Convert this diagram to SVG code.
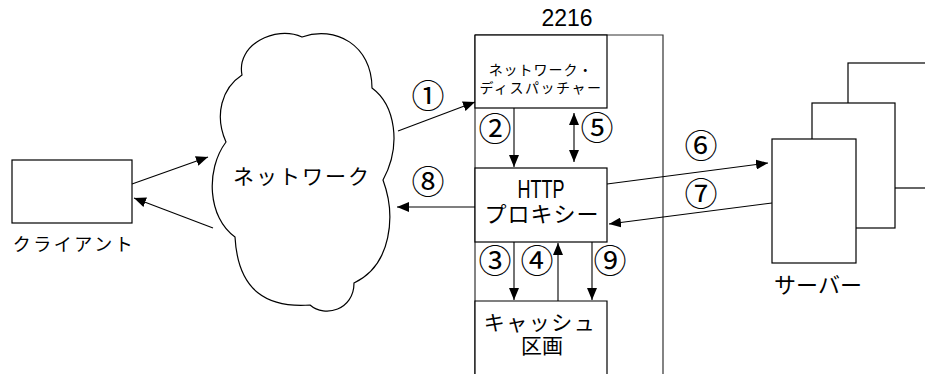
<svg xmlns="http://www.w3.org/2000/svg" width="925" height="374" viewBox="0 0 925 374">
<defs>
<style>
.box{fill:#fff;stroke:#000;stroke-width:1.2}
.frame{fill:none;stroke:#333;stroke-width:1.2}
.ln{fill:none;stroke:#000;stroke-width:1.1}
.t{font-family:"Liberation Sans","Noto Sans CJK JP",sans-serif;fill:#000}
.c{font-family:"Noto Sans CJK JP","DejaVu Sans",sans-serif;fill:#000;font-size:33px;text-anchor:middle}
</style>
<marker id="ah" viewBox="0 0 12 10" refX="12" refY="5" markerWidth="12" markerHeight="10" markerUnits="userSpaceOnUse" orient="auto-start-reverse">
<path d="M0,0 L12,5 L0,10 Z" fill="#000"/>
</marker>
</defs>
<rect width="925" height="374" fill="#fff"/>

<g id="system2216">
<path class="frame" d="M475,35 H663 V374 M475,35 V374"/>
<text class="t" x="567" y="26" font-size="23" text-anchor="middle">2216</text>
</g>

<g id="client">
<rect class="box" x="12" y="160" width="120" height="63"/>
<text class="t" x="74" y="251" font-size="18" letter-spacing="2.5" text-anchor="middle">クライアント</text>
</g>

<g id="network">
<path class="box" d="M242,75 C236,45 275,25 302,37 C335,25 372,45 372,88 C395,105 402,145 383,180 C396,215 392,265 354,283 C354,310 325,318 310,305 C268,308 238,292 235,237 C208,218 205,170 226,142 C214,115 222,88 242,75 Z"/>
<text class="t" x="302" y="184" font-size="21" letter-spacing="2" text-anchor="middle">ネットワーク</text>
</g>

<g id="dispatcher">
<rect class="box" x="475" y="35" width="132" height="73"/>
<text class="t" x="541" y="75" font-size="14" letter-spacing="1" text-anchor="middle">ネットワーク・</text>
<text class="t" x="541" y="93" font-size="14" letter-spacing="1.5" text-anchor="middle">ディスパッチャー</text>
</g>

<g id="proxy">
<rect class="box" x="475" y="168" width="132" height="74"/>
<text class="t" x="541" y="198" font-size="25" text-anchor="middle" textLength="47" lengthAdjust="spacingAndGlyphs">HTTP</text>
<text class="t" x="542" y="222" font-size="22" letter-spacing="1" text-anchor="middle">プロキシー</text>
</g>

<g id="cache">
<path class="box" d="M475,374 V301 H607 V374"/>
<text class="t" x="540" y="330" font-size="21" letter-spacing="1.5" text-anchor="middle">キャッシュ</text>
<text class="t" x="542" y="353" font-size="21" text-anchor="middle">区画</text>
</g>

<g id="servers">
<rect class="box" x="848" y="63" width="90" height="125"/>
<rect class="box" x="812" y="103" width="83" height="125"/>
<rect class="box" x="772" y="139" width="84" height="124"/>
<text class="t" x="818" y="293" font-size="22" text-anchor="middle">サーバー</text>
</g>

<g id="connectors">
<line class="ln" x1="132" y1="184" x2="208" y2="157" marker-end="url(#ah)"/>
<line class="ln" x1="213" y1="228" x2="134" y2="198" marker-end="url(#ah)"/>
<line class="ln" x1="398" y1="131" x2="475" y2="102" marker-end="url(#ah)"/>
<line class="ln" x1="475" y1="207" x2="397" y2="207" marker-end="url(#ah)"/>
<line class="ln" x1="514" y1="108" x2="514" y2="167" marker-end="url(#ah)"/>
<line class="ln" x1="574" y1="113" x2="574" y2="162" marker-start="url(#ah)" marker-end="url(#ah)"/>
<line class="ln" x1="607" y1="184" x2="768" y2="163" marker-end="url(#ah)"/>
<line class="ln" x1="772" y1="203" x2="609" y2="224" marker-end="url(#ah)"/>
<line class="ln" x1="514" y1="242" x2="514" y2="300" marker-end="url(#ah)"/>
<line class="ln" x1="558" y1="301" x2="558" y2="243" marker-end="url(#ah)"/>
<line class="ln" x1="592" y1="242" x2="592" y2="300" marker-end="url(#ah)"/>
</g>

<g id="labels">
<text class="c" x="428" y="108">①</text>
<text class="c" x="428" y="194">⑧</text>
<text class="c" x="495" y="141">②</text>
<text class="c" x="597" y="140">⑤</text>
<text class="c" x="701" y="158">⑥</text>
<text class="c" x="701" y="206">⑦</text>
<text class="c" x="495" y="273">③</text>
<text class="c" x="537" y="273">④</text>
<text class="c" x="610" y="273">⑨</text>
</g>
</svg>
